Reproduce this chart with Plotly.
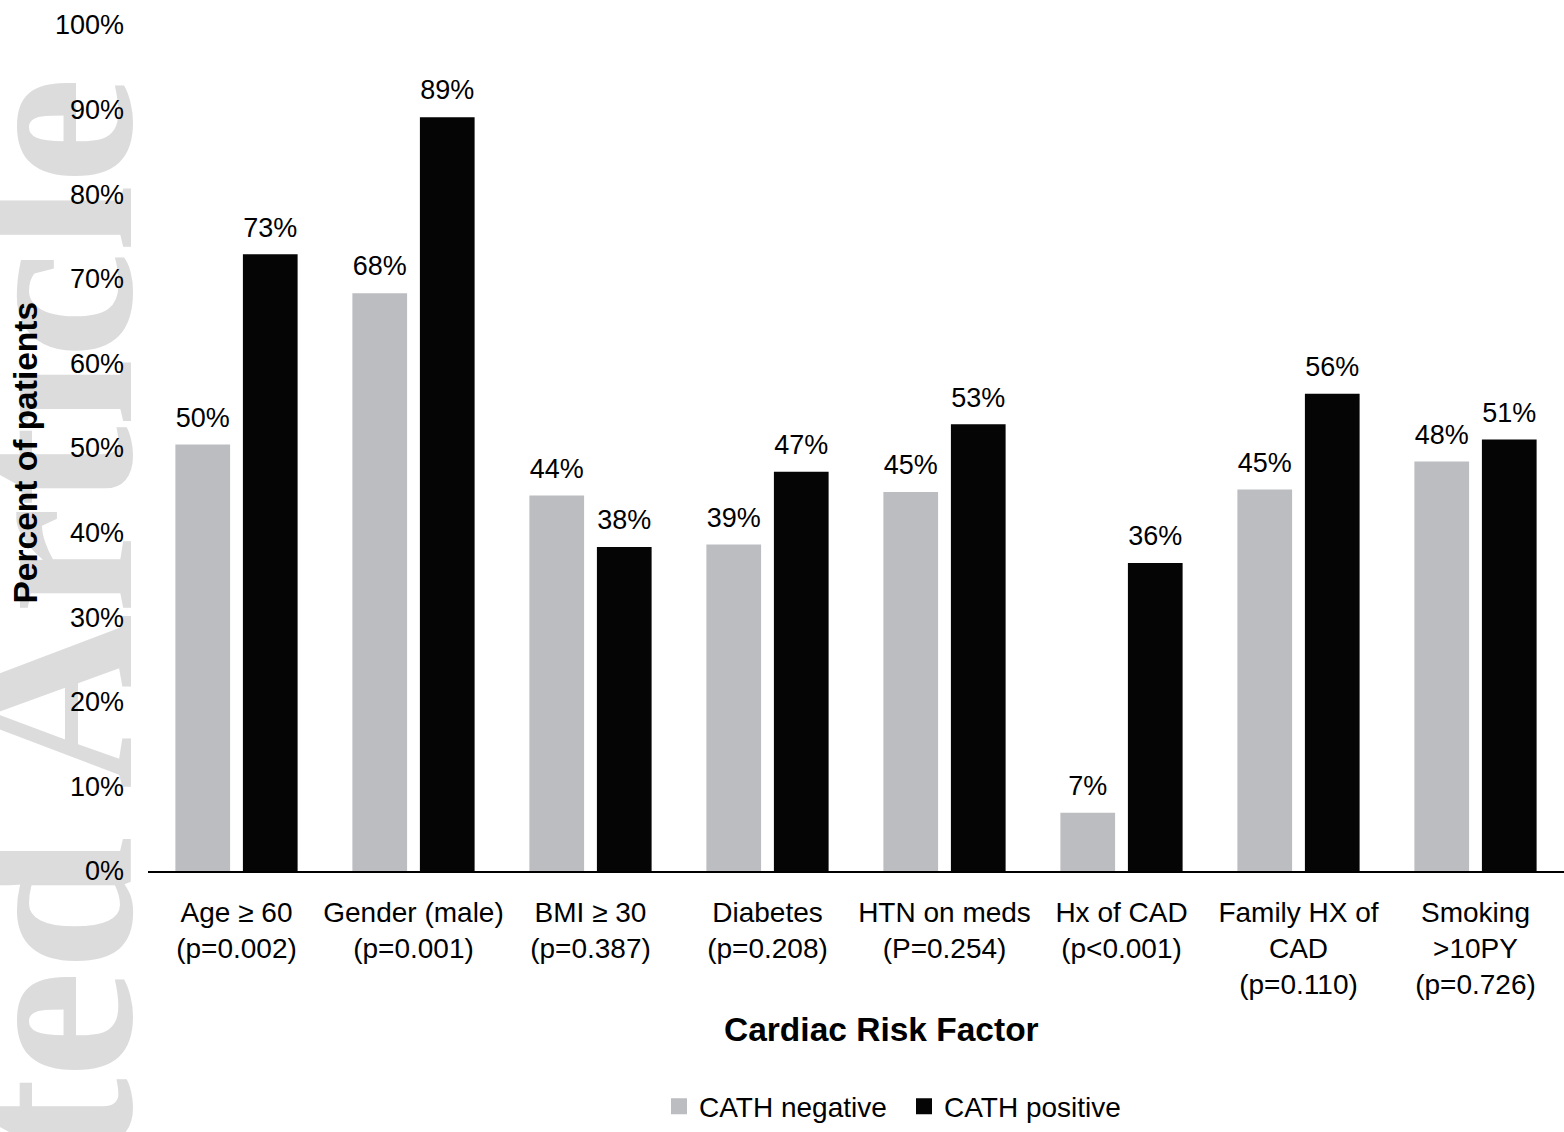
import plotly.graph_objects as go

categories = [
    "Age ≥ 60<br>(p=0.002)",
    "Gender (male)<br>(p=0.001)",
    "BMI ≥ 30<br>(p=0.387)",
    "Diabetes<br>(p=0.208)",
    "HTN on meds<br>(P=0.254)",
    "Hx of CAD<br>(p&lt;0.001)",
    "Family HX of<br>CAD<br>(p=0.110)",
    "Smoking<br>&gt;10PY<br>(p=0.726)",
]
cath_negative = [50.4, 68.3, 44.4, 38.6, 44.8, 6.9, 45.1, 48.4]
cath_positive = [72.9, 89.1, 38.3, 47.2, 52.8, 36.4, 56.4, 51.0]
series_names = ["CATH negative", "CATH positive"]
y_ticks = [0, 10, 20, 30, 40, 50, 60, 70, 80, 90, 100]
y_tick_labels = ["0%", "10%", "20%", "30%", "40%", "50%", "60%", "70%", "80%", "90%", "100%"]
watermark = "Accepted Article"

GRAY = "#bcbdc0"
BLACK = "#050505"
FONT = "Liberation Sans"
W, H = 1564, 1132
ML, MR, MT, MB = 148, 0, 25, 256
PW, PH = W - ML - MR, H - MT - MB


def px_x(px):
    return (px - ML) / PW


def px_y(py):
    return (H - MB - py) / PH


fig = go.Figure()
colors = [GRAY, BLACK]
series = [cath_negative, cath_positive]
for name, vals, col in zip(series_names, series, colors):
    fig.add_bar(name=name, x=categories, y=vals, marker=dict(color=col, line=dict(width=0)),
                offsetgroup=name, hoverinfo="skip", showlegend=False)
for name, vals in zip(series_names, series):
    fig.add_scatter(x=categories, y=vals, mode="markers+text", texttemplate="%{y:.0f}%",
                    textposition="top center", marker=dict(size=16, opacity=0),
                    textfont=dict(family=FONT, size=27, color="black"),
                    offsetgroup=name, showlegend=False, hoverinfo="skip", cliponaxis=False)
# legend entries with larger square swatches
for name, col in zip(series_names, colors):
    fig.add_scatter(x=[None], y=[None], mode="markers", name=name,
                    marker=dict(symbol="square", size=18, color=col), showlegend=True)

# watermark behind everything
fig.add_shape(type="rect", xref="paper", yref="paper",
              x0=px_x(13), x1=px_x(33), y0=px_y(949), y1=px_y(929),
              line=dict(width=0), fillcolor="rgba(0,0,0,0)", layer="below",
              label=dict(text=watermark, textangle=-90, textposition="middle center",
                         font=dict(family="Liberation Serif", size=242, color="#dcdcdc",
                                   weight="bold")))

fig.add_annotation(text="<b>Percent of patients</b>", xref="paper", yref="paper",
                   x=px_x(25), y=px_y(455), textangle=-90, showarrow=False,
                   xanchor="center", yanchor="middle",
                   font=dict(family=FONT, size=33.5, color="black"))
fig.add_annotation(text="<b>Cardiac Risk Factor</b>", xref="paper", yref="paper",
                   x=px_x(881), y=px_y(1035), showarrow=False,
                   xanchor="center", yanchor="middle",
                   font=dict(family=FONT, size=33.5, color="black"))

fig.update_layout(
    width=W, height=H,
    margin=dict(l=ML, r=MR, t=MT, b=MB, pad=0),
    paper_bgcolor="white", plot_bgcolor="white",
    barmode="group", bargap=0.237, bargroupgap=0.19,
    scattermode="group", scattergap=0.237,
    font=dict(family=FONT, size=28, color="black"),
    legend=dict(orientation="h", xanchor="left", x=px_x(659), yanchor="middle", y=px_y(1113),
                font=dict(family=FONT, size=28, color="black"), traceorder="normal",
                entrywidth=200, entrywidthmode="pixels", itemsizing="trace",
                bgcolor="rgba(0,0,0,0)"),
    xaxis=dict(type="category", showgrid=False, zeroline=False, showline=True,
               linecolor="black", linewidth=2, ticks="", ticklabelstandoff=15,
               tickfont=dict(family=FONT, size=28, color="black")),
    yaxis=dict(range=[0, 100], tickmode="array", tickvals=y_ticks, ticktext=y_tick_labels,
               showgrid=False, zeroline=False, showline=False, ticks="", ticklabelstandoff=23,
               tickfont=dict(family=FONT, size=27, color="black")),
    showlegend=True,
)

fig.write_html("out.html")
